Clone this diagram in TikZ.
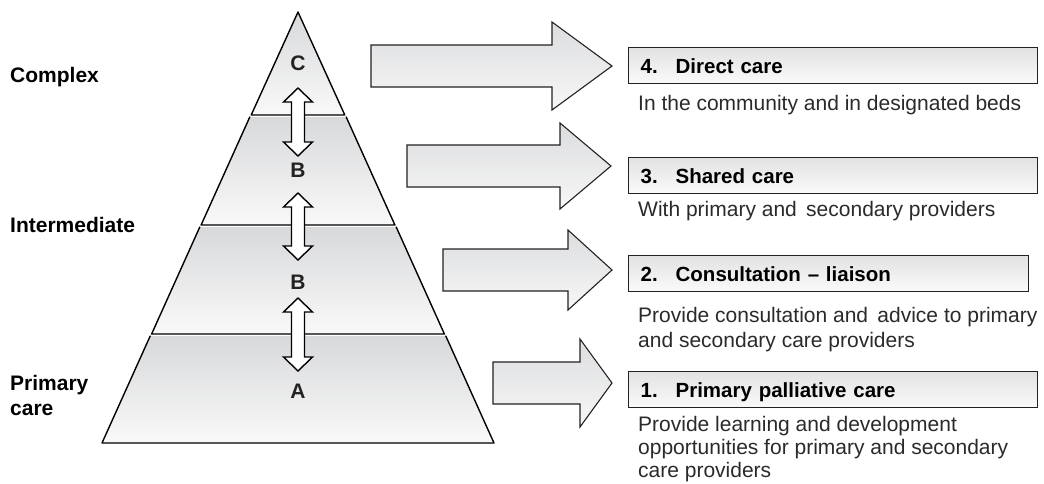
\documentclass[tikz,border=0pt]{standalone}
\usepackage{fontspec}
\setmainfont{Liberation Sans}
\definecolor{laytop}{HTML}{D8D9DB}
\definecolor{laybot}{HTML}{F9F9F9}
\definecolor{arrtop}{HTML}{DCDDDF}
\definecolor{arrbot}{HTML}{F7F7F7}
\definecolor{boxtop}{HTML}{E2E2E2}
\definecolor{boxbot}{HTML}{FAFAFA}
\definecolor{inkline}{HTML}{222222}
\definecolor{subink}{HTML}{2A2A2A}
\newcommand\dblarr[2]{%
  \draw[dblarrow] (298,#1) -- (312.5,#1+14) -- (304.5,#1+14) -- (304.5,#2-14) -- (312.5,#2-14)
    -- (298,#2) -- (283.5,#2-14) -- (291.5,#2-14) -- (291.5,#1+14) -- (283.5,#1+14) -- cycle;}
\newcommand\bigarr[6]{% tail, head base, tip, center y, shaft half, head half
  \draw[bigarrow] (#1,#4-#5) -- (#2,#4-#5) -- (#2,#4-#6) -- (#3,#4) -- (#2,#4+#6)
    -- (#2,#4+#5) -- (#1,#4+#5) -- cycle;}
% layer: top-left x, top-right x, top y, bottom-left x, bottom-right x, bottom y
\newcommand\pyrlayer[6]{%
  \path[layerfill] (#1,#3) -- (#2,#3) -- (#5,#6) -- (#4,#6) -- cycle;
  \draw[layeredge] (#1,#3) -- (#4,#6) -- (#5,#6) -- (#2,#3);}
\begin{document}
\begin{tikzpicture}[x=1pt,y=-1pt,
  layerfill/.style={top color=laytop, bottom color=laybot},
  layeredge/.style={draw=black, line width=1.4pt, line join=round, line cap=round},
  bigarrow/.style={draw=inkline, line width=1.1pt, top color=arrtop, bottom color=arrbot, line join=miter},
  dblarrow/.style={draw=black, line width=1.4pt, fill=white, line join=miter},
  carebox/.style={draw=inkline, line width=1.3pt, top color=boxtop, bottom color=boxbot,
     minimum height=36pt, inner xsep=12pt, inner ysep=0pt, align=left, anchor=north west,
     font=\fontsize{20.5}{24}\selectfont\bfseries, text=black, text height=14.7pt, text depth=0pt},
  subtext/.style={anchor=base west, inner sep=0pt, font=\fontsize{21}{24}\selectfont, text=subink},
  sidelabel/.style={anchor=base west, inner sep=0pt, font=\fontsize{21}{24}\selectfont\bfseries, text=black},
  tierlabel/.style={inner sep=0pt, font=\fontsize{21}{24}\selectfont\bfseries, text=inkline, text height=15pt, text depth=0pt}
]
\useasboundingbox (0,0) rectangle (1044,483);
% pyramid layers
\path[layerfill] (298,12) -- (344.8,115) -- (251.2,115) -- cycle;
\draw[layeredge] (298,12) -- (344.8,115) -- (251.2,115) -- cycle;
\pyrlayer{249.8}{346.2}{117}{201.1}{394.9}{225}
\pyrlayer{199.8}{396.2}{227}{151.6}{444.4}{334}
\pyrlayer{150.2}{445.8}{336}{102}{494}{443}
% tier labels
\node[tierlabel] (tc) at (298,63) {C};
\node[tierlabel] (tb1) at (298,170) {B};
\node[tierlabel] (tb2) at (298,282) {B};
\node[tierlabel] (ta) at (298,391) {A};
% double arrows
\dblarr{88}{156}
\dblarr{193}{260}
\dblarr{298}{371}
% side labels
\node[sidelabel] (lc) at (10,82) {Complex};
\node[sidelabel] (li) at (10,232) {Intermediate};
\node[sidelabel] (lp1) at (10,390) {Primary};
\node[sidelabel] (lp2) at (10,415) {care};
% big arrows
\bigarr{371}{552}{612}{66}{21}{44}
\bigarr{407}{560}{611}{166}{21}{43}
\bigarr{443}{568}{612}{270}{21}{40}
\bigarr{493}{580}{612}{383}{21}{44}
% boxes
\node[carebox, minimum width=409pt, text width=385pt] (b4) at (628,47) {\makebox[35pt][l]{4.}Direct care};
\node[carebox, minimum width=409pt, text width=385pt] (b3) at (628,157) {\makebox[35pt][l]{3.}Shared care};
\node[carebox, minimum width=400pt, text width=376pt] (b2) at (628,255) {\makebox[35pt][l]{2.}Consultation -- liaison};
\node[carebox, minimum width=409pt, text width=385pt] (b1) at (628,371) {\makebox[35pt][l]{1.}Primary palliative care};
% sub texts
\node[subtext] (s4) at (638,110) {In the community and in designated beds};
\node[subtext] (s3) at (638,216) {With primary and\ \,secondary providers};
\node[subtext] (s2a) at (638,322) {Provide consultation and\ \,advice to primary};
\node[subtext] (s2b) at (638,347) {and secondary care providers};
\node[subtext] (s1a) at (638,431) {Provide learning and development};
\node[subtext] (s1b) at (638,454) {opportunities for primary and secondary};
\node[subtext] (s1c) at (638,477) {care providers};
\end{tikzpicture}
\end{document}
